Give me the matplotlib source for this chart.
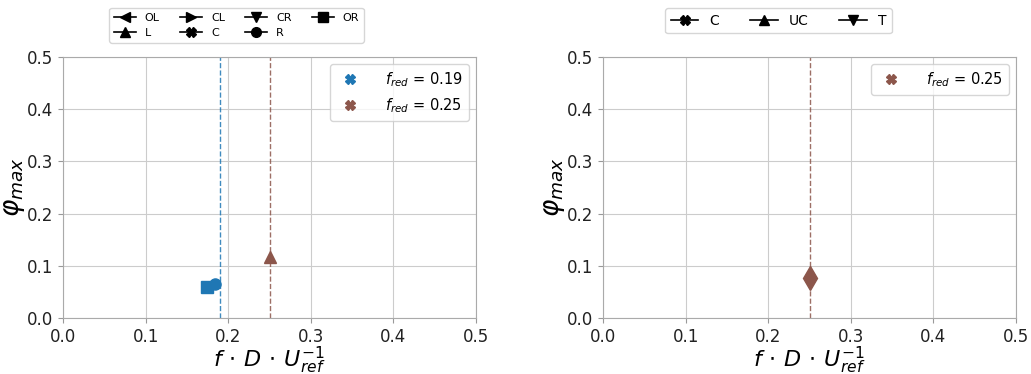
import matplotlib.pyplot as plt
from matplotlib.lines import Line2D

# ── data ──────────────────────────────────────────────────────────────────────
# left panel: points per position, coloured by reduced frequency
left_x = [0.174, 0.184, 0.251]
left_y = [0.060, 0.066, 0.117]
left_markers = ["s", "o", "^"]
left_groups = [0.19, 0.19, 0.25]

# right panel
right_x = [0.251]
right_y = [0.077]
right_markers = ["d"]
right_groups = [0.25]

fred_values = [0.19, 0.25]
fred_colors = {0.19: "#1f77b4", 0.25: "#8c564b"}

left_pos_labels = ["OL", "L", "CL", "C", "CR", "R", "OR"]
left_pos_markers = ["<", "^", ">", "X", "v", "o", "s"]
right_pos_labels = ["C", "UC", "T"]
right_pos_markers = ["X", "^", "v"]

# ── figure ────────────────────────────────────────────────────────────────────
fig = plt.figure(figsize=(10.31, 3.74), dpi=100)
ax1 = fig.add_axes([0.0611, 0.1497, 0.4006, 0.698])
ax2 = fig.add_axes([0.5849, 0.1497, 0.4006, 0.698])


def style_axis(ax):
    ax.set_xlim(0, 0.5)
    ax.set_ylim(0, 0.5)
    ax.set_xticks([0, 0.1, 0.2, 0.3, 0.4, 0.5])
    ax.set_yticks([0, 0.1, 0.2, 0.3, 0.4, 0.5])
    ax.tick_params(labelsize=12, color="#999999", colors="#222222")
    ax.grid(True, color="#cccccc", linewidth=0.8)
    ax.set_axisbelow(True)
    for s in ax.spines.values():
        s.set_color("#aaaaaa")
    ax.set_xlabel(r"$f \,\cdot\, D \,\cdot\, U_{ref}^{-1}$", fontsize=16,
                  labelpad=-1)
    ax.set_ylabel(r"$\varphi_{max}$", fontsize=19, labelpad=0)


def fred_handles(vals):
    return [Line2D([], [], linestyle="none", marker="X", markersize=7,
                   color=fred_colors[v], label=r"$f_{red}$ = %.2f" % v)
            for v in vals]


def pos_handles(labels, markers):
    return [Line2D([], [], color="black", marker=m, markersize=7,
                   linewidth=1.2, label=l) for l, m in zip(labels, markers)]


# left panel
for v in fred_values:
    ax1.axvline(v, color=fred_colors[v], linestyle="--", linewidth=1,
                alpha=0.85, zorder=2)
for x, y, m, g in zip(left_x, left_y, left_markers, left_groups):
    ax1.plot(x, y, marker=m, markersize=8, color=fred_colors[g],
             linestyle="none", zorder=3)
style_axis(ax1)
leg1 = ax1.legend(handles=fred_handles(fred_values), loc="upper right",
                  fontsize=10.5, handletextpad=1.4)
ax1.add_artist(leg1)
ax1.legend(handles=pos_handles(left_pos_labels, left_pos_markers),
           loc="lower center", bbox_to_anchor=(0.42, 1.055), ncol=4,
           fontsize=8, handlelength=2, columnspacing=1.8,
           borderaxespad=0, labelspacing=0.5)

# right panel
ax2.axvline(0.25, color=fred_colors[0.25], linestyle="--", linewidth=1,
            alpha=0.85, zorder=2)
for x, y, m, g in zip(right_x, right_y, right_markers, right_groups):
    ax2.plot(x, y, marker=m, markersize=12, color=fred_colors[g],
             linestyle="none", zorder=3)
style_axis(ax2)
leg2 = ax2.legend(handles=fred_handles([0.25]), loc="upper right",
                  fontsize=10.5, handletextpad=1.4)
ax2.add_artist(leg2)
ax2.legend(handles=pos_handles(right_pos_labels, right_pos_markers),
           loc="lower center", bbox_to_anchor=(0.425, 1.09), ncol=3,
           fontsize=10, handlelength=2, columnspacing=2.2, borderaxespad=0)

fig.savefig("out.png", dpi=100)
